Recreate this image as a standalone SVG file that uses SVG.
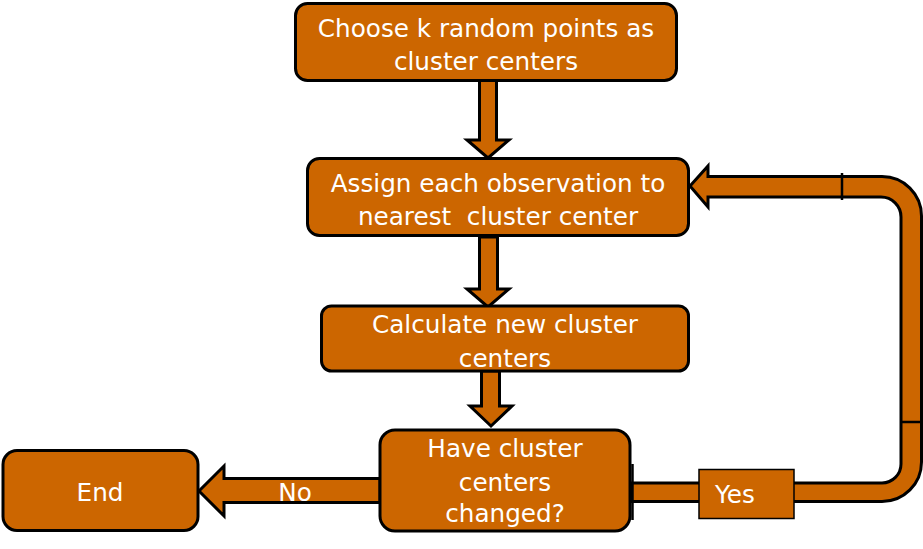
<svg xmlns="http://www.w3.org/2000/svg" width="923" height="549" viewBox="0 0 923 549">
<style>
.box{fill:#CC6600;stroke:#000;stroke-width:3}
.arr{fill:#CC6600;stroke:#000;stroke-width:3;stroke-linejoin:miter}
.seam{stroke:#000;stroke-width:2.5;fill:none}
text{font-family:"DejaVu Sans",Verdana,sans-serif;font-size:24.7px;fill:#fff;text-anchor:middle}
</style>
<rect width="923" height="549" fill="#fff"/>
<g id="connectors">
<polygon class="arr" points="479.5,80 496.5,80 496.5,140 509,140 488,158 467,140 479.5,140"/>
<polygon class="arr" points="479.5,237 497.5,237 497.5,289 509,289 488,307 467,289 479.5,289"/>
<polygon class="arr" points="481.5,371 499.5,371 499.5,406 512,406 491,426 470,406 481.5,406"/>
<polygon class="arr" points="380,478.5 224,478.5 224,466 199,491 224,516 224,502.5 380,502.5"/>
<path class="arr" d="M631,483 L882,483 A19,19 0 0 0 901,464 L901,217 A20,20 0 0 0 881,197 L708,197 L708,207 L690,186 L708,166 L708,176.5 L882,176.5 A39.5,39.5 0 0 1 921.5,216 L921.5,462 A39.5,39.5 0 0 1 882,501.5 L631,501.5 Z"/>
<line class="seam" x1="842" y1="173" x2="842" y2="200"/>
<line class="seam" x1="901" y1="422" x2="922" y2="422"/>
<line class="seam" x1="632.5" y1="464" x2="632.5" y2="520"/>
</g>
<g id="node-choose">
<rect class="box" x="295.5" y="3.5" width="381" height="77" rx="12"/>
<text x="486" y="37">Choose k random points as</text>
<text x="486" y="70">cluster centers</text>
</g>
<g id="node-assign">
<rect class="box" x="307.5" y="158.5" width="381" height="77" rx="12"/>
<text x="498" y="192">Assign each observation to</text>
<text x="498" y="225" xml:space="preserve">nearest  cluster center</text>
</g>
<g id="node-calc">
<rect class="box" x="321.5" y="306" width="367" height="65" rx="10"/>
<text x="505" y="333">Calculate new cluster</text>
<text x="505" y="367">centers</text>
</g>
<g id="node-changed">
<rect class="box" x="380" y="430" width="250" height="101" rx="15"/>
<text x="505" y="457">Have cluster</text>
<text x="505" y="491">centers</text>
<text x="505" y="522">changed?</text>
</g>
<g id="node-end">
<rect class="box" x="3" y="450.5" width="195" height="80" rx="14"/>
<text x="100" y="501">End</text>
</g>
<g id="label-no">
<text x="295" y="501">No</text>
</g>
<g id="label-yes">
<rect x="699" y="469.5" width="95" height="49" fill="#CC6600" stroke="#000" stroke-width="1.5"/>
<text x="735" y="503">Yes</text>
</g>
</svg>
